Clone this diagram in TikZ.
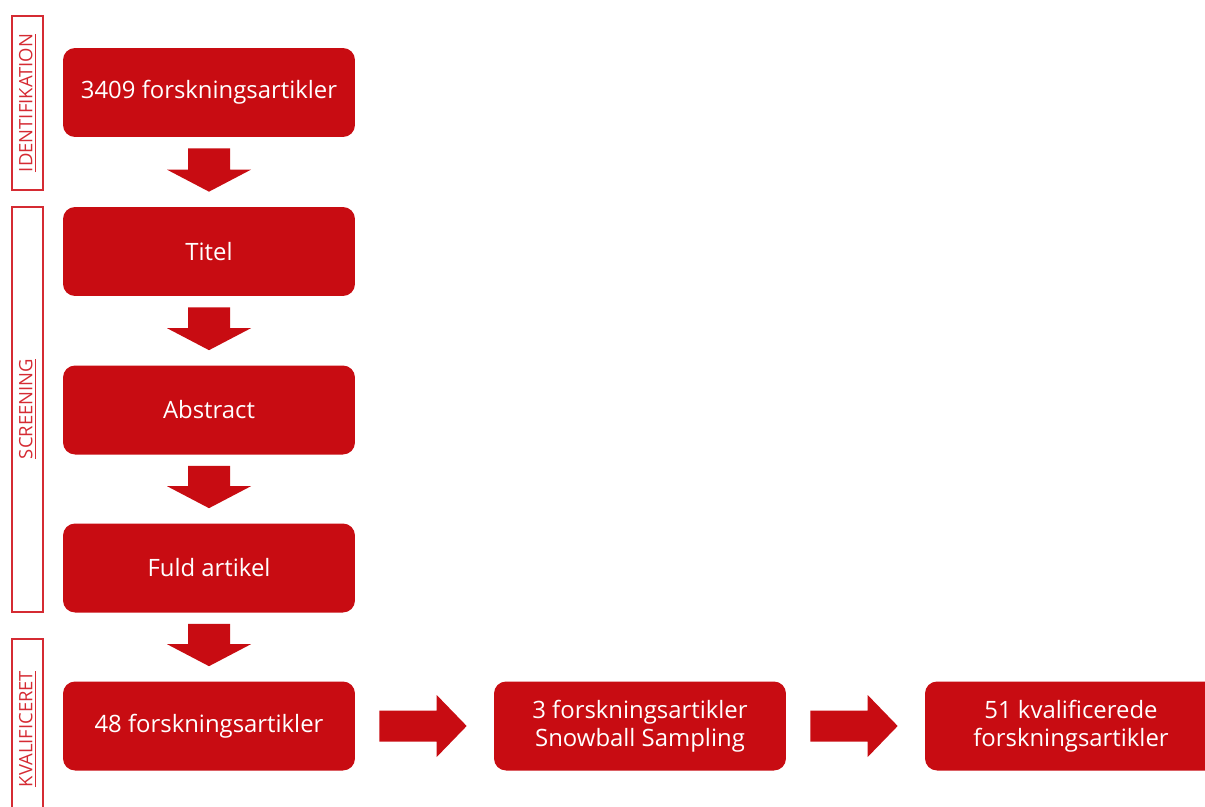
\documentclass[tikz,border=0pt]{standalone}
\usepackage{fontspec}
\setmainfont{Open Sans}
\usepackage{xcolor}
\usepackage{tikz}
\usetikzlibrary{calc}
\definecolor{pilred}{HTML}{C80C12}
\definecolor{rammered}{HTML}{D52B33}
% block arrow down from node #1 to node #2
\newcommand{\nedpil}[2]{\coordinate (p1) at ($(#1.south)+(0,11)$); \coordinate (p2) at ($(#2.north)+(0,-15)$);
  \coordinate (p3) at ($(p2)+(0,-22)$);
  \fill[pilred] ($(p1)+(-21,0)$) -- ($(p1)+(21,0)$) -- ($(p3)+(21,0)$) -- ($(p3)+(42,0)$) -- (p2)
    -- ($(p3)+(-42,0)$) -- ($(p3)+(-21,0)$) -- cycle;}
% block arrow right from node #1 to node #2
\newcommand{\hoejrepil}[2]{\coordinate (p1) at ($(#1.east)+(24,0)$); \coordinate (p2) at ($(#2.west)+(-27,0)$);
  \coordinate (p3) at ($(p2)+(-30,0)$);
  \fill[pilred] ($(p1)+(0,-15.5)$) -- ($(p1)+(0,15.5)$) -- ($(p3)+(0,15.5)$) -- ($(p3)+(0,31)$) -- (p2)
    -- ($(p3)+(0,-31)$) -- ($(p3)+(0,-15.5)$) -- cycle;}
\tikzset{boks/.style={fill=pilred,text=white,rounded corners=0.24cm,minimum width=5.84cm,minimum height=1.78cm,
    align=center,font=\fontsize{13.6}{16.2}\selectfont,inner sep=0pt},
  ramme/.style={draw=rammered,line width=0.7pt},
  fase/.style={rotate=90,text=rammered,font=\fontsize{10.5}{12}\selectfont,inner sep=0pt}}

\begin{document}
\begin{tikzpicture}[x=0.02cm,y=-0.02cm]
\useasboundingbox (0,0) rectangle (1205,806);
\node[boks] (ident) at (209,92.5) {3409 forskningsartikler};
\node[boks] (titel) at (209,251.5) {Titel};
\node[boks] (abstr) at (209,410) {Abstract};
\node[boks] (fuld) at (209,568) {Fuld artikel};
\node[boks] (otte) at (209,726) {48 forskningsartikler};
\node[boks] (snow) at (640,726) {3 forskningsartikler\\Snowball Sampling};
\node[boks] (kval) at (1071,726) {51 kvalificerede\\forskningsartikler};
\nedpil{ident}{titel} \nedpil{titel}{abstr} \nedpil{abstr}{fuld} \nedpil{fuld}{otte}
\hoejrepil{otte}{snow} \hoejrepil{snow}{kval}
\draw[ramme] (12,16) rectangle (43,190); \node[fase] (l1) at (27.5,103) {\underline{IDENTIFIKATION}};
\draw[ramme] (12,207) rectangle (43,612); \node[fase] (l2) at (27.5,409) {\underline{SCREENING}};
\draw[ramme] (12,639) rectangle (43,830); \node[fase] (l3) at (27.5,729) {\underline{KVALIFICERET}};
\end{tikzpicture}
\end{document}
